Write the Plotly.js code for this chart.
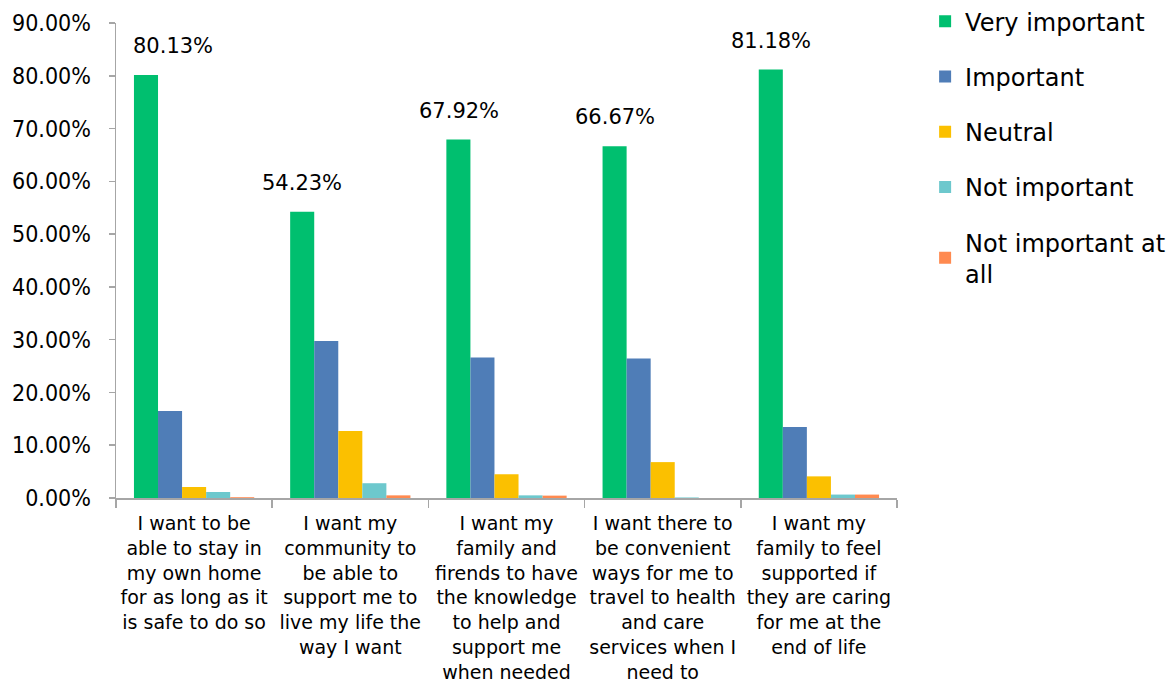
<!DOCTYPE html>
<html>
<head>
<meta charset="utf-8">
<script src="https://cdn.plot.ly/plotly-3.0.1.min.js"></script>
<style>html,body{margin:0;padding:0;background:#fff;}#chart{width:1174px;height:682px;}</style>
</head>
<body>
<div id="chart"></div>
<script>
const categories = [
  "I want to be<br>able to stay in<br>my own home<br>for as long as it<br>is safe to do so",
  "I want my<br>community to<br>be able to<br>support me to<br>live my life the<br>way I want",
  "I want my<br>family and<br>firends to have<br>the knowledge<br>to help and<br>support me<br>when needed",
  "I want there to<br>be convenient<br>ways for me to<br>travel to health<br>and care<br>services when I<br>need to",
  "I want my<br>family to feel<br>supported if<br>they are caring<br>for me at the<br>end of life"
];
const seriesNames = ["Very important", "Important", "Neutral", "Not important", "Not important at<br>all"];
const veryImportant = [80.13, 54.23, 67.92, 66.67, 81.18];
const important = [16.5, 29.75, 26.6, 26.45, 13.45];
const neutral = [2.08, 12.7, 4.5, 6.8, 4.1];
const notImportant = [1.14, 2.8, 0.5, 0.1, 0.65];
const notImportantAtAll = [0.15, 0.5, 0.45, 0.0, 0.65];
const colors = ["#00BF6F", "#4F7DB7", "#FBC000", "#6DC8CD", "#FF8A50"];
const yTicks = [0, 10, 20, 30, 40, 50, 60, 70, 80, 90];

const values = [veryImportant, important, neutral, notImportant, notImportantAtAll];
const traces = values.map((v, i) => ({
  type: "bar",
  name: seriesNames[i],
  x: categories,
  y: v,
  marker: {color: colors[i], line: {width: 0}},
  legendgroup: "g" + i,
  hoverinfo: "skip"
}));

const annXShift = [-21, -48, -48, -48, -48];
const annotations = veryImportant.map((v, i) => ({
  x: categories[i], y: v, xref: "x", yref: "y",
  text: v.toFixed(2) + "%", showarrow: false,
  xanchor: "center", yanchor: "middle",
  xshift: annXShift[i], yshift: 29,
  font: {family: "DejaVu Sans", size: 21, color: "#000"}
}));

const layout = {
  width: 1174, height: 682,
  margin: {l: 116, r: 277, t: 23, b: 184, autoexpand: false},
  paper_bgcolor: "#fff", plot_bgcolor: "#fff",
  font: {family: "DejaVu Sans", color: "#000"},
  barmode: "group", bargap: 0.23, bargroupgap: 0,
  showlegend: true,
  legend: {
    x: 1.036, xanchor: "left", y: 1.05, yanchor: "top",
    font: {family: "DejaVu Sans", size: 24, color: "#000"},
    tracegroupgap: 21, itemwidth: 30, bgcolor: "rgba(0,0,0,0)"
  },
  xaxis: {
    type: "category", showgrid: false, zeroline: false,
    showline: true, linecolor: "#A6A6A6", linewidth: 1.5,
    ticks: "outside", tickson: "boundaries", ticklen: 8, tickcolor: "#A6A6A6", tickwidth: 1.5,
    tickfont: {family: "DejaVu Sans", size: 19, color: "#000"},
    ticklabelstandoff: 8,
    tickangle: 0, automargin: false
  },
  yaxis: {
    range: [0, 90], tickvals: yTicks, ticktext: yTicks.map(t => t.toFixed(2) + "%"),
    showgrid: false, zeroline: false,
    showline: true, linecolor: "#A6A6A6", linewidth: 1.5,
    ticks: "outside", ticklen: 6, tickcolor: "#A6A6A6", tickwidth: 1.5,
    tickfont: {family: "DejaVu Sans Condensed, DejaVu Sans", size: 23, color: "#000"},
    ticklabelstandoff: 13,
    automargin: false
  },
  annotations: annotations
};

Plotly.newPlot("chart", traces, layout, {displayModeBar: false, staticPlot: true});
</script>
</body>
</html>
